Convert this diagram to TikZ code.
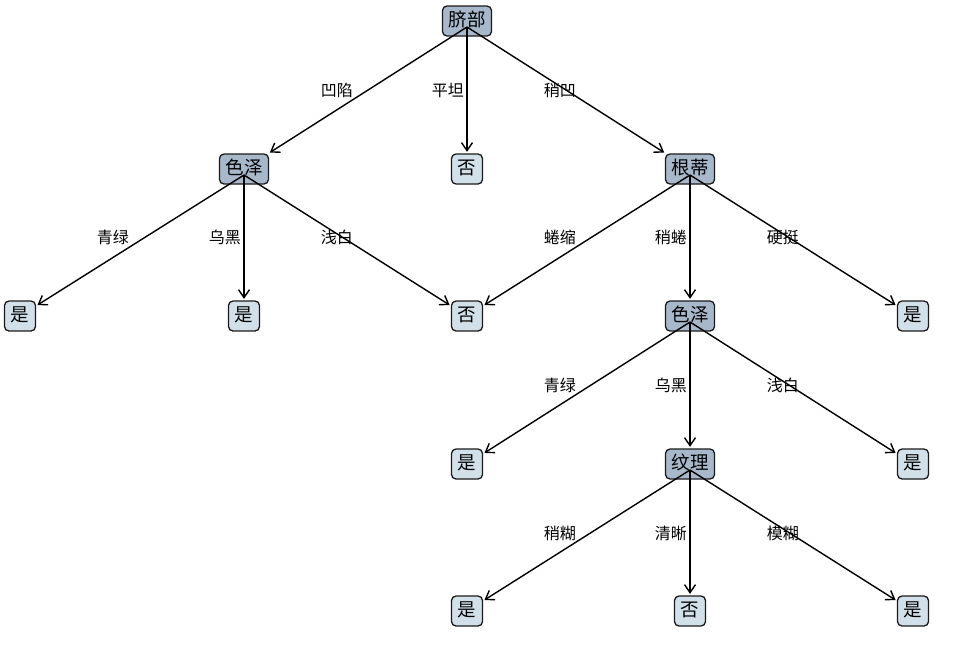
\documentclass[tikz,border=0pt]{standalone}
\usepackage{fontspec}
\setmainfont{Noto Sans CJK SC}
\usetikzlibrary{arrows.meta,calc}
\definecolor{decfill}{HTML}{A7B8CB}
\definecolor{leaffill}{HTML}{D2E0EA}
\definecolor{boxline}{HTML}{1A1A1A}
\tikzset{
  decnode/.style={draw=boxline, line width=1.3pt, fill=decfill, rounded corners=4.5pt,
    font=\fontsize{18.5}{18.5}\selectfont, inner xsep=6pt, inner ysep=0pt,
    minimum height=30pt, text height=14pt, text depth=3pt},
  leafnode/.style={decnode, fill=leaffill, minimum width=31pt},
  edge/.style={line width=1.4pt, -{Straight Barb[length=8pt,width=11pt,line width=1.4pt]}, shorten >=1.5pt},
  elabel/.style={font=\fontsize{16}{16}\selectfont, anchor=east, inner sep=0pt}
}
\begin{document}
\begin{tikzpicture}[x=1pt,y=-1pt]
\useasboundingbox (0,0) rectangle (965,654);
% nodes
\node[decnode] (r) at (467,21) {脐部};
\node[decnode] (a) at (244,169) {色泽};
\node[leafnode] (b) at (467,169) {否};
\node[decnode] (c) at (690,169) {根蒂};
\node[leafnode] (a1) at (20,316) {是};
\node[leafnode] (a2) at (244,316) {是};
\node[leafnode] (a3) at (467,316) {否};
\node[decnode] (c2) at (690,316) {色泽};
\node[leafnode] (c3) at (913,316) {是};
\node[leafnode] (d1) at (467,464) {是};
\node[decnode] (d2) at (690,464) {纹理};
\node[leafnode] (d3) at (913,464) {是};
\node[leafnode] (e1) at (467,611) {是};
\node[leafnode] (e2) at (690,611) {否};
\node[leafnode] (e3) at (913,611) {是};
% start coordinates
\foreach \n in {r,a,c,c2,d2} {\coordinate (\n s) at ($(\n.center)+(0,-6pt)$);}
% edges
\draw[edge] (rs) -- (a);
\draw[edge] (rs) -- (b);
\draw[edge] (rs) -- (c);
\draw[edge] (as) -- (a1);
\draw[edge] (as) -- (a2);
\draw[edge] (as) -- (a3);
\draw[edge] (cs) -- (a3);
\draw[edge] (cs) -- (c2);
\draw[edge] (cs) -- (c3);
\draw[edge] (c2s) -- (d1);
\draw[edge] (c2s) -- (d2);
\draw[edge] (c2s) -- (d3);
\draw[edge] (d2s) -- (e1);
\draw[edge] (d2s) -- (e2);
\draw[edge] (d2s) -- (e3);
% labels
\node[elabel] (l1) at (353,90) {凹陷};
\node[elabel] (l2) at (464,90) {平坦};
\node[elabel] (l3) at (576,90) {稍凹};
\node[elabel] (l4) at (129,237) {青绿};
\node[elabel] (l5) at (241,237) {乌黑};
\node[elabel] (l6) at (353,237) {浅白};
\node[elabel] (l7) at (576,237) {蜷缩};
\node[elabel] (l8) at (687,237) {稍蜷};
\node[elabel] (l9) at (799,237) {硬挺};
\node[elabel] (l10) at (576,385) {青绿};
\node[elabel] (l11) at (687,385) {乌黑};
\node[elabel] (l12) at (799,385) {浅白};
\node[elabel] (l13) at (576,533) {稍糊};
\node[elabel] (l14) at (687,533) {清晰};
\node[elabel] (l15) at (799,533) {模糊};
\end{tikzpicture}
\end{document}
